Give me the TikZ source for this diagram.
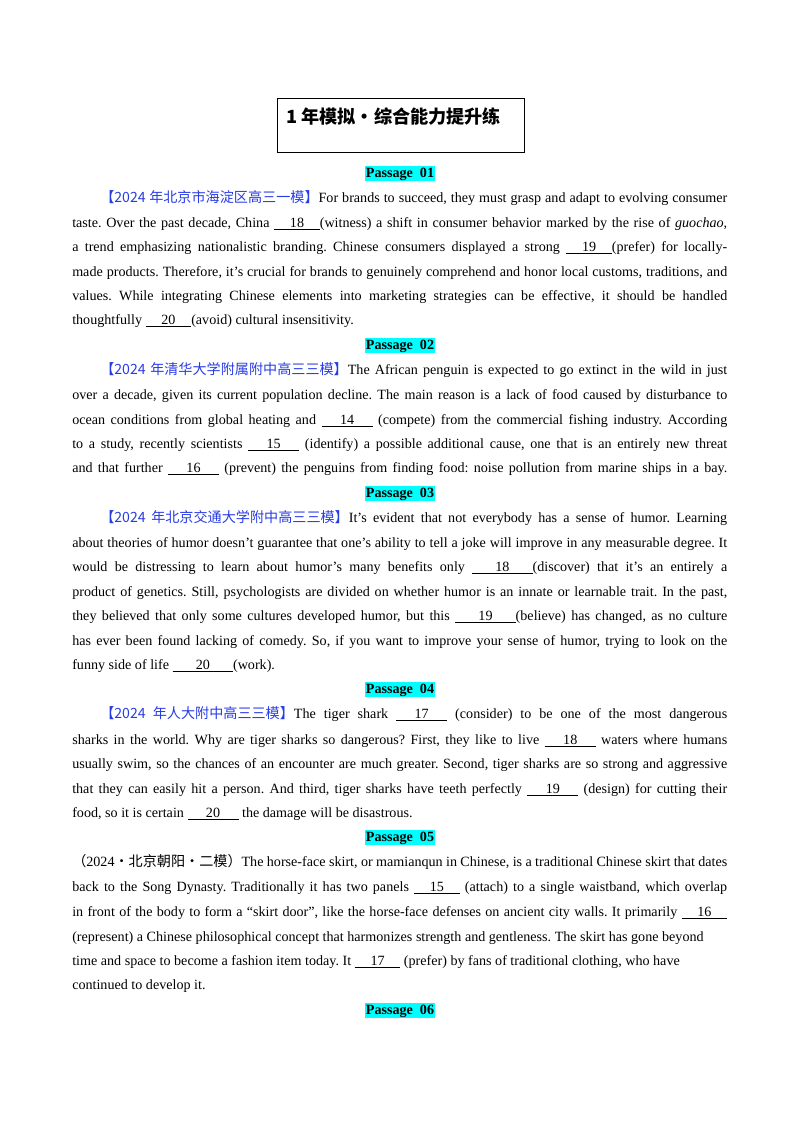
\documentclass[tikz,border=0pt]{standalone}
\usepackage{fontspec}
\setmainfont{Liberation Serif}
\newfontfamily\cjk{Noto Sans CJK SC}
\usepackage{xcolor}
\definecolor{hdr}{RGB}{40,60,230}
\definecolor{hl}{RGB}{0,255,255}
\frenchspacing
\newcommand\bl[2][34pt]{\underline{\makebox[#1]{#2}}}
\newcommand\hd[1]{{\color{hdr}\cjk #1}}
\newcommand\jl[3]{\node[anchor=base west,inner sep=0pt] at (#1,#2) {\makebox[\dimexpr 0.744pt*(727-#1)\relax][s]{#3}};}
\newcommand\lline[3]{\node[anchor=base west,inner sep=0pt] at (#1,#2) {#3};}
\newcommand\ps[2]{\node[pass] at (400,#1) {Passage\ \ #2};}
\begin{document}
\begin{tikzpicture}[x=0.744pt,y=-0.744pt,font=\fontsize{10.5}{12}\selectfont,
  pass/.style={fill=hl,inner sep=1pt,font=\fontsize{10.5}{12}\selectfont\bfseries,anchor=base}]
\useasboundingbox (0,0) rectangle (800,1132);
\draw[line width=0.6pt] (277,98) rectangle (524,152);
\node[anchor=west,inner sep=0pt,font=\cjk\bfseries\fontsize{13.5}{16}\selectfont] (title) at (286,117) {1 年模拟•综合能力提升练};
% P01
\ps{177}{01}
\jl{100}{202}{\hd{【2024 年北京市海淀区高三一模】}For brands to succeed, they must grasp and adapt to evolving consumer}
\jl{72}{227}{taste. Over the past decade, China \bl{18}(witness) a shift in consumer behavior marked by the rise of \textit{guochao},}
\jl{72}{251}{a trend emphasizing nationalistic branding. Chinese consumers displayed a strong \bl{19}(prefer) for locally-}
\jl{72}{276}{made products. Therefore, it’s crucial for brands to genuinely comprehend and honor local customs, traditions, and}
\jl{72}{300}{values. While integrating Chinese elements into marketing strategies can be effective, it should be handled}
\lline{72}{324}{thoughtfully \bl{20}(avoid) cultural insensitivity.}
% P02
\ps{349}{02}
\jl{100}{374}{\hd{【2024 年清华大学附属附中高三三模】}The African penguin is expected to go extinct in the wild in just}
\jl{72}{399}{over a decade, given its current population decline. The main reason is a lack of food caused by disturbance to}
\jl{72}{424}{ocean conditions from global heating and \bl[38pt]{14} (compete) from the commercial fishing industry. According}
\jl{72}{448}{to a study, recently scientists \bl[38pt]{15} (identify) a possible additional cause, one that is an entirely new threat}
\jl{72}{472}{and that further \bl[38pt]{16} (prevent) the penguins from finding food: noise pollution from marine ships in a bay.}
% P03
\ps{497}{03}
\jl{100}{522}{\hd{【2024 年北京交通大学附中高三三模】}It’s evident that not everybody has a sense of humor. Learning}
\jl{72}{547}{about theories of humor doesn’t guarantee that one’s ability to tell a joke will improve in any measurable degree. It}
\jl{72}{571}{would be distressing to learn about humor’s many benefits only \bl[45pt]{18}(discover) that it’s an entirely a}
\jl{72}{596}{product of genetics. Still, psychologists are divided on whether humor is an innate or learnable trait. In the past,}
\jl{72}{620}{they believed that only some cultures developed humor, but this \bl[45pt]{19}(believe) has changed, as no culture}
\jl{72}{645}{has ever been found lacking of comedy. So, if you want to improve your sense of humor, trying to look on the}
\lline{72}{669}{funny side of life \bl[45pt]{20}(work).}
% P04
\ps{693}{04}
\jl{100}{718}{\hd{【2024 年人大附中高三三模】}The tiger shark \bl[38pt]{17} (consider) to be one of the most dangerous}
\jl{72}{744}{sharks in the world. Why are tiger sharks so dangerous? First, they like to live \bl[38pt]{18} waters where humans}
\jl{72}{768}{usually swim, so the chances of an encounter are much greater. Second, tiger sharks are so strong and aggressive}
\jl{72}{793}{that they can easily hit a person. And third, tiger sharks have teeth perfectly \bl[38pt]{19} (design) for cutting their}
\lline{72}{817}{food, so it is certain \bl[38pt]{20} the damage will be disastrous.}
% P05
\ps{841}{05}
\jl{72}{866}{{\cjk （}2024{\cjk ·北京朝阳·二模）}The horse-face skirt, or mamianqun in Chinese, is a traditional Chinese skirt that dates}
\jl{72}{891}{back to the Song Dynasty. Traditionally it has two panels \bl{15} (attach) to a single waistband, which overlap}
\jl{72}{916}{in front of the body to form a “skirt door”, like the horse-face defenses on ancient city walls. It primarily \bl{16}}
\lline{72}{941}{(represent) a Chinese philosophical concept that harmonizes strength and gentleness. The skirt has gone beyond}
\lline{72}{965}{time and space to become a fashion item today. It \bl{17} (prefer) by fans of traditional clothing, who have}
\lline{72}{989}{continued to develop it.}
\ps{1014}{06}
\end{tikzpicture}
\end{document}
